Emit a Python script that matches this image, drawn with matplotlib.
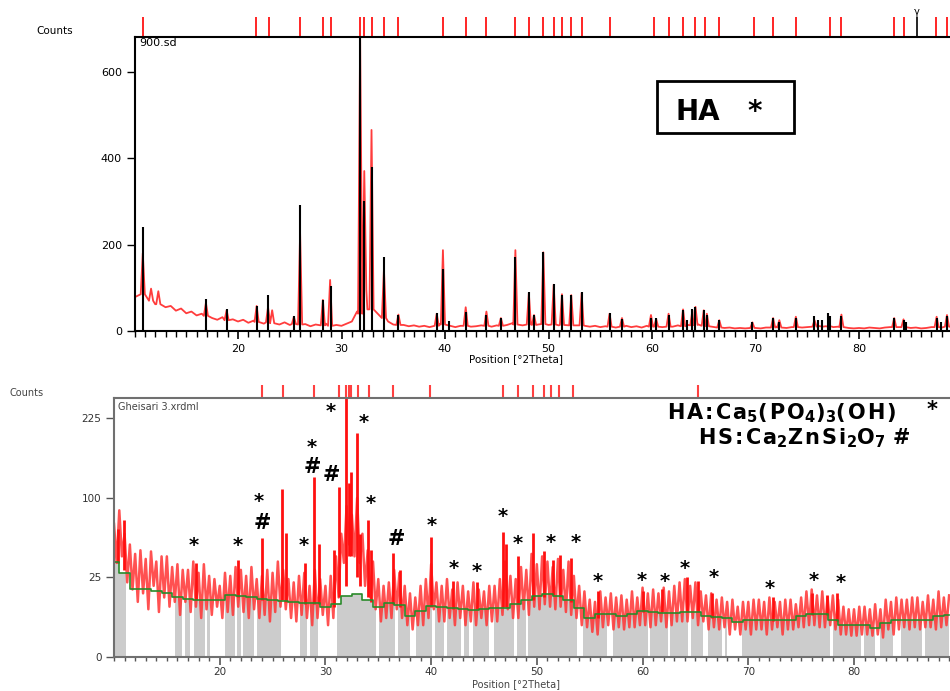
import numpy as np
import matplotlib
matplotlib.use("Agg")
import matplotlib.pyplot as plt
from matplotlib.patches import Rectangle
from matplotlib.ticker import MultipleLocator, FixedLocator

W, H = 950, 691

# ---------------- upper pattern: 900.sd ----------------
scan_start = 10.0
top_step = 0.5
top_bg = [
    78, 84, 100, 70, 62, 74, 55, 58, 47, 52, 41, 45, 36, 40, 33, 30, 26, 32, 24, 27,
    22, 26, 19, 24, 20, 17, 22, 18, 15, 20, 14, 18, 15, 16, 11, 15, 12, 17, 10, 14,
    12, 17, 22, 45, 100, 50, 70, 40, 30, 22, 15, 13, 14, 11, 13, 10, 12, 9, 13, 16,
    30, 12, 9, 12, 14, 10, 11, 13, 12, 10, 13, 11, 14, 18, 20, 13, 16, 14, 15, 18,
    14, 15, 13, 14, 12, 13, 15, 12, 10, 12, 9, 11, 10, 8, 10, 12, 9, 11, 8, 12,
    11, 10, 9, 12, 10, 13, 11, 14, 16, 15, 12, 11, 9, 8, 7, 8, 6, 7, 6, 8,
    7, 6, 8, 9, 10, 8, 7, 9, 10, 8, 9, 11, 12, 10, 11, 9, 10, 8, 7, 6,
    7, 6, 8, 7, 6, 8, 9, 10, 9, 8, 7, 8, 6, 7, 9, 10, 8, 11, 9,
]
top_peak_pos = [10.8, 11.6, 12.3, 16.9, 18.9, 21.8, 22.9, 23.3, 25.4, 26.0, 28.2, 28.9,
                31.8, 32.2, 32.9, 34.1, 35.5, 39.2, 39.8, 42.0, 44.0, 45.4, 46.8, 48.1,
                48.6, 49.5, 50.5, 51.3, 52.2, 53.2, 55.9, 57.1, 59.9, 60.4, 61.6, 63.0,
                63.9, 64.2, 65.0, 65.3, 66.5, 69.7, 71.7, 72.3, 73.9, 75.7, 77.0, 77.2,
                78.3, 83.4, 84.3, 87.5, 88.5]
top_peak_h = [180, 98, 92, 65, 48, 58, 55, 48, 33, 226, 72, 118,
              680, 370, 465, 142, 38, 40, 187, 55, 45, 30, 187, 88,
              37, 182, 107, 85, 83, 88, 40, 30, 37, 28, 40, 50,
              48, 56, 48, 40, 25, 20, 30, 25, 33, 25, 35, 30,
              38, 30, 27, 33, 37]
top_peak_foot = [85, 70, 62, 35, 25, 21, 20, 18, 16, 15, 13, 12,
                 40, 95, 50, 30, 14, 12, 15, 12, 12, 12, 15, 15,
                 14, 16, 15, 14, 13, 13, 10, 10, 10, 10, 10, 11,
                 13, 14, 12, 11, 8, 7, 8, 8, 9, 10, 11, 10,
                 9, 9, 9, 9, 10]
ref_pos = [10.8, 16.9, 18.9, 21.8, 22.9, 25.4, 26.0, 28.2, 29.0, 31.8, 32.2, 32.9,
           34.1, 35.5, 39.2, 39.8, 40.4, 42.0, 44.0, 45.4, 46.8, 48.1, 48.6, 49.5,
           50.5, 51.3, 52.2, 53.2, 55.9, 57.1, 59.9, 60.4, 61.6, 63.0, 63.4, 63.9,
           64.2, 65.0, 65.3, 66.5, 69.7, 71.7, 72.3, 73.9, 75.7, 76.0, 76.4, 77.0,
           77.2, 78.3, 83.4, 84.3, 84.5, 87.5, 87.9, 88.5]
ref_h = [240, 75, 51, 58, 83, 35, 292, 72, 104, 680, 300, 380,
         171, 37, 42, 143, 22, 45, 37, 30, 171, 90, 37, 182,
         109, 83, 84, 90, 42, 28, 30, 30, 37, 49, 25, 51,
         56, 48, 37, 25, 20, 30, 20, 30, 35, 25, 25, 42,
         35, 35, 30, 25, 20, 30, 20, 35]
top_marks = [10.8, 21.7, 23.0, 26.0, 28.2, 28.95, 31.8, 32.2, 32.9, 34.1, 35.5, 39.8,
             42.0, 44.0, 46.8, 48.1, 49.5, 50.5, 51.3, 52.2, 53.2, 55.9, 60.2, 61.6,
             63.0, 64.2, 65.1, 66.5, 69.9, 71.7, 73.9, 77.2, 78.3, 83.4, 84.3, 87.4, 88.5]
gamma_pos = 85.6

# ---------------- lower pattern: Gheisari 3.xrdml ----------------
bot_step = 0.25
bot_trace = [
    70, 35, 85, 40, 60, 22, 50, 18, 42, 12, 45, 16, 38, 9, 44, 20, 36, 8, 40, 14,
    40, 10, 32, 12, 34, 7, 30, 12, 30, 8, 36, 10, 28, 6, 34, 9, 26, 7, 24, 10,
    20, 6, 28, 8, 26, 7, 32, 10, 30, 8, 26, 6, 32, 9, 24, 6, 26, 7, 30, 5,
    28, 8, 36, 10, 30, 9, 24, 6, 22, 5, 26, 7, 28, 6, 20, 4, 30, 6, 24, 7,
    20, 4, 26, 6, 40, 14, 60, 35, 90, 50, 80, 40, 100, 35, 60, 20, 45, 14, 36, 9,
    24, 5, 20, 6, 22, 6, 30, 9, 28, 6, 20, 4, 16, 3, 14, 4, 20, 4, 24, 6,
    34, 9, 22, 5, 20, 5, 24, 6, 18, 4, 22, 6, 20, 4, 17, 5, 22, 4, 18, 6,
    17, 4, 20, 5, 20, 5, 24, 7, 36, 9, 26, 6, 24, 6, 32, 9, 30, 7, 42, 10,
    34, 9, 40, 11, 36, 10, 32, 9, 38, 10, 30, 8, 36, 7, 26, 6, 20, 4, 17, 3.5,
    13, 2.5, 12, 2, 17, 3.5, 14, 4, 16, 3, 14, 3.5, 15, 3, 13, 3.5, 17, 3.5, 14, 4,
    19, 4, 16, 3.5, 18, 4, 16, 5, 19, 3.5, 17, 4, 20, 5, 22, 5, 24, 5, 20, 6,
    22, 4, 17, 5, 15, 3, 16, 3.5, 13, 3, 14, 3.5, 12, 2, 13, 3, 10, 2, 12, 3,
    12, 2, 13, 3, 13, 3, 12, 2, 14, 3, 12, 3.5, 12, 2, 13, 3, 13, 3, 11, 3.5,
    14, 3.5, 17, 4, 18, 4, 15, 3.5, 17, 3.5, 14, 4, 15, 3, 13, 2, 10, 2, 9, 1.8,
    9, 1.8, 10, 2, 10, 2, 9, 1.8, 11, 2, 9, 1.5, 13, 3, 12, 2, 14, 3, 13, 3.5,
    13, 3, 14, 3.5, 14, 3, 12, 3.5, 15, 3.5, 13, 3, 17, 3.5, 14, 4, 15,
]
bot_peak_pos = [10.4, 10.9, 17.8, 21.7, 24.0, 25.9, 26.3, 28.1, 28.9, 29.4, 30.8, 31.3,
                31.9, 32.2, 32.4, 33.0, 33.3, 34.0, 34.3, 36.4, 37.1, 40.0, 42.1, 44.3,
                46.8, 47.1, 48.2, 49.6, 50.7, 51.5, 52.2, 53.2, 55.8, 60.0, 61.8, 64.2,
                65.2, 66.6, 72.3, 76.0, 77.4, 78.4]
bot_peak_h = [65, 74, 35, 37, 56, 112, 61, 35, 128, 50, 45, 114,
              320, 120, 135, 198, 60, 74, 45, 43, 30, 57, 23, 22,
              62, 50, 40, 61, 44, 37, 41, 39, 17, 17, 18, 25,
              23, 16, 14, 16, 15, 16]
bot_peak_foot = [35, 30, 13, 14, 13, 13, 12, 11, 11, 11, 10, 14,
                 20, 40, 40, 25, 20, 14, 12, 11, 10, 10, 9, 9,
                 10, 10, 11, 13, 14, 15, 14, 12, 6, 8, 8, 8,
                 8, 6, 5, 7, 7, 5]
bg_deg = list(range(10, 90))
bot_bg = [36, 28, 18, 18, 17, 16, 14, 13.5, 13, 12.8,
          13, 15, 14.5, 14, 13.3, 13, 12.5, 12, 11.5, 11.5,
          10, 11, 14.5, 15.5, 13, 10, 11.5, 10.5, 6.5, 8.5,
          10.3, 10, 9.3, 9, 8.7, 9, 9.5, 9.5, 11, 13,
          14.5, 15.7, 14.5, 12.8, 9.5, 6, 7.3, 7.3, 6.8, 7.2,
          8.4, 8, 7.7, 7.7, 8, 8, 6.5, 6.3, 6, 4.8,
          5.4, 5.4, 5.4, 5.4, 5.4, 6.5, 7.3, 7.3, 5.5, 4.1,
          4.1, 4.1, 3.4, 4.5, 5.4, 5.4, 5.4, 5.4, 6.5, 7.0]
gray_gaps = [(11.1, 15.8), (16.4, 16.7), (17.2, 17.6), (18.6, 18.8), (19.1, 20.5),
             (21.4, 21.6), (22.0, 22.2), (23.2, 23.5), (25.8, 27.6), (28.3, 28.5),
             (29.3, 31.1), (34.8, 35.1), (36.6, 36.9), (38.0, 38.6), (40.1, 40.4),
             (41.2, 41.5), (42.8, 43.1), (43.6, 44.0), (45.5, 45.9), (47.8, 48.1),
             (49.0, 49.2), (53.8, 54.4), (56.6, 57.2), (60.5, 60.7), (62.4, 62.6),
             (64.3, 64.6), (65.7, 66.2), (67.5, 67.8), (68.0, 69.4), (77.7, 78.0),
             (80.7, 80.9), (82.0, 82.5), (83.7, 84.4), (86.4, 86.7)]
bot_marks = [24.0, 26.0, 28.9, 31.3, 31.9, 32.2, 32.4, 33.1, 34.1, 36.4, 39.9,
             46.8, 48.2, 49.6, 50.7, 51.3, 52.1, 53.4, 65.2]
star_x = [17.5, 21.7, 23.7, 27.9, 28.7, 30.5, 33.6, 34.3, 40.1, 42.1, 44.3, 46.8,
          48.2, 51.3, 53.7, 55.8, 59.9, 62.1, 64.0, 66.7, 72.0, 76.2, 78.7]
star_y = [48.7, 48.7, 95, 48.7, 174, 239, 217, 92.6, 68, 30.6, 28.6, 77.5,
          51, 52, 52, 22.8, 23.4, 22.8, 31, 24.7, 18.3, 23.4, 21.7]
hash_x = [24.0, 28.8, 30.6, 36.7]
hash_y = [71, 143, 131, 55]


def fx(px):
    return px / W


def fy(py):
    return 1 - py / H


def sp(s):
    # the reference labels are letter-spaced
    return '\u200a'.join(s)


fig = plt.figure(figsize=(W / 100, H / 100), dpi=100)

# ---------------- upper axes ----------------
ax1 = fig.add_axes([fx(134.5), fy(331), (962.5 - 134.5) / W, (331 - 37) / H])
grid = scan_start + top_step * np.arange(len(top_bg))
pk = np.array(top_peak_pos)
keep = np.abs(grid[:, None] - pk[None, :]).min(axis=1) > 0.22
xs = np.concatenate([grid[keep], pk - 0.2, pk, pk + 0.2])
ys = np.concatenate([np.array(top_bg, float)[keep], top_peak_foot, top_peak_h, top_peak_foot])
order = np.argsort(xs, kind='stable')
ax1.plot(xs[order], ys[order], color='#ff3c3c', lw=1.3)
ax1.vlines(ref_pos, 0, ref_h, colors='black', lw=1.5)
ax1.set_xlim(10, 90)
ax1.set_ylim(0, 680)
ax1.spines['right'].set_visible(False)
for s in ['left', 'bottom', 'top']:
    ax1.spines[s].set_linewidth(1.5)
ax1.xaxis.set_major_locator(FixedLocator([20, 30, 40, 50, 60, 70, 80]))
ax1.xaxis.set_minor_locator(MultipleLocator(1))
ax1.yaxis.set_major_locator(FixedLocator([0, 200, 400, 600]))
ax1.tick_params(axis='x', which='major', length=6, width=1.2, labelsize=8, pad=3)
ax1.tick_params(axis='x', which='minor', length=4, width=1.0)
ax1.tick_params(axis='y', length=6, width=1.0, labelsize=8, pad=3)
ax1.vlines(top_marks, 1.0, 1.068, transform=ax1.get_xaxis_transform(),
           colors='red', lw=1.2, clip_on=False)
ax1.vlines([gamma_pos], 1.0, 1.068, transform=ax1.get_xaxis_transform(),
           colors='black', lw=1.2, clip_on=False)
ax1.text(gamma_pos, 1.085, 'γ', transform=ax1.get_xaxis_transform(),
         ha='center', va='center', fontsize=7)
ax1.text(0.006, 0.997, '900.sd', transform=ax1.transAxes, ha='left', va='top', fontsize=8)
ax1.add_patch(Rectangle((fx(657), fy(133)), fx(794) - fx(657), fy(81) - fy(133),
                        transform=fig.transFigure, fill=False, lw=2, ec='black'))
fig.text(fx(698), fy(112), 'HA', ha='center', va='center', fontsize=20, fontweight='bold')
fig.text(fx(755), fy(112), '*', ha='center', va='center', fontsize=20, fontweight='bold')
fig.text(fx(55), fy(31), 'Counts', ha='center', va='center', fontsize=7.5)
fig.text(fx(516), fy(359), 'Position [°2Theta]', ha='center', va='center', fontsize=7.5)

# ---------------- lower axes ----------------
ax2 = fig.add_axes([fx(114), fy(657), (959.7 - 114) / W, (657 - 398) / H])
ax2.set_yscale('function', functions=(lambda v: np.sqrt(np.clip(v, 0, None)),
                                      lambda v: np.square(v)))
bx = scan_start + bot_step * np.arange(len(bot_trace))
ax2.fill_between(bg_deg, 0, bot_bg, step='mid', color='#cccccc', lw=0, zorder=1)
for a, b in gray_gaps:
    ax2.axvspan(a, b, color='white', lw=0, zorder=1.5)
ax2.plot(bx, bot_trace, color='#ff3333', lw=1.8, alpha=0.85, zorder=2)
ax2.vlines(bot_peak_pos, bot_peak_foot, bot_peak_h, colors='#ff1010', lw=2.0, zorder=2.2)
ax2.plot(bg_deg, bot_bg, color='#2a8a2a', lw=1.2, drawstyle='steps-mid', zorder=3)
ax2.set_xlim(10, 90)
ax2.set_ylim(0, 265)
ax2.spines['right'].set_visible(False)
for s in ['left', 'bottom', 'top']:
    ax2.spines[s].set_linewidth(1.5)
    ax2.spines[s].set_color('#707070')
    ax2.spines[s].set_zorder(4)
ax2.xaxis.set_major_locator(FixedLocator([20, 30, 40, 50, 60, 70, 80]))
ax2.xaxis.set_minor_locator(MultipleLocator(1))
ax2.yaxis.set_major_locator(FixedLocator([0, 25, 100, 225]))
ax2.yaxis.set_minor_locator(FixedLocator([]))
ax2.tick_params(axis='x', which='major', length=6, width=1.2, labelsize=7.5, pad=1.5,
                colors='#555555', labelcolor='#333333')
ax2.tick_params(axis='x', which='minor', length=3, width=1.0, colors='#555555')
ax2.tick_params(axis='y', length=6, width=1.0, labelsize=7.5, pad=3,
                colors='#555555', labelcolor='#333333')
ax2.vlines(bot_marks, 1.0, 1.05, transform=ax2.get_xaxis_transform(),
           colors='#ff4040', lw=1.5, clip_on=False)
ax2.text(0.005, 0.985, 'Gheisari 3.xrdml', transform=ax2.transAxes, ha='left', va='top',
         fontsize=7, color='#444444', zorder=5)
for x, y in zip(star_x, star_y):
    ax2.text(x, y, '*', ha='center', va='center', fontsize=14, fontweight='bold', zorder=5)
for x, y in zip(hash_x, hash_y):
    ax2.text(x, y, '#', ha='center', va='center', fontsize=15, fontweight='bold', zorder=5)
line1 = (sp('HA:Ca') + r'$_\mathbf{5}$' + sp('(PO') + r'$_\mathbf{4}$' + ')'
         + r'$_\mathbf{3}$' + sp('(OH)'))
line2 = (sp('HS:Ca') + r'$_\mathbf{2}$' + sp('ZnSi') + r'$_\mathbf{2}$' + 'O'
         + r'$_\mathbf{7}$' + ' #')
fig.text(fx(667), fy(413), line1, ha='left', va='center', fontsize=15, fontweight='bold')
fig.text(fx(932), fy(410), '*', ha='center', va='center', fontsize=15, fontweight='bold')
fig.text(fx(698), fy(438), line2, ha='left', va='center', fontsize=15, fontweight='bold')
fig.text(fx(10), fy(393), 'Counts', ha='left', va='center', fontsize=7, color='#444444')
fig.text(fx(516), fy(684), 'Position [°2Theta]', ha='center', va='center', fontsize=7,
         color='#444444')

fig.savefig('out.png', dpi=100)
